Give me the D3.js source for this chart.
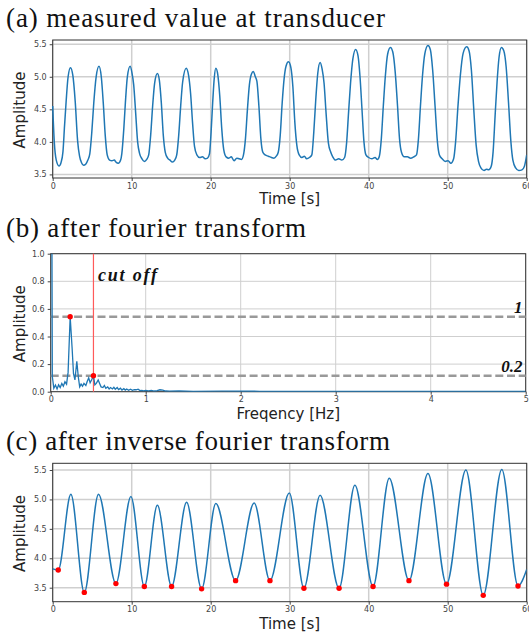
<!DOCTYPE html>
<html>
<head>
    <meta charset="utf-8" />
    <title>Transducer signal filtering</title>
    <style>
        body { margin: 0; background: #fff; }
        .tick text { font-family: "DejaVu Sans", sans-serif; font-size: 8px; fill: #444; }
        .title { font-family: "Liberation Serif", serif; font-size: 27px; fill: #111; }
        .axlabel { font-family: "DejaVu Sans", sans-serif; font-size: 15px; fill: #222; }
        .note { font-family: "Liberation Serif", serif; font-weight: bold; font-style: italic; fill: #111; }
    </style>
</head>
<body>
<script src="https://d3js.org/d3.v7.min.js"></script>
<script>

    var rawTime = [
        0.0, 0.2, 0.45, 0.8, 1.05, 1.3, 1.5, 1.7, 1.95, 2.25, 2.55, 2.85, 3.15, 3.4, 3.65, 3.9, 4.2, 4.45,
        4.7, 4.95, 5.2, 5.5, 5.86, 6.15, 6.4, 6.65, 6.9, 7.2, 7.5, 7.8, 8.0, 8.3, 8.6,
        8.75, 9.0, 9.2, 9.45, 9.8, 10.05, 10.25, 10.5, 10.75, 11.0, 11.3, 11.6, 11.9, 12.15,
        12.4, 12.65, 12.9, 13.25, 13.5, 13.75, 14.0, 14.25, 14.55, 14.85, 15.15, 15.45, 15.7,
        15.95, 16.2, 16.45, 16.9, 17.2, 17.45, 17.7, 17.95, 18.25, 18.6, 18.95, 19.3, 19.6, 19.85,
        20.05, 20.25, 20.45, 20.65, 20.9, 21.15, 21.4, 21.65, 21.95, 22.3, 22.6, 22.95, 23.3, 23.6, 23.9, 24.15,
        24.4, 24.65, 24.9, 25.15, 25.4, 25.65, 25.85, 26.1, 26.35, 26.6, 26.9, 27.3, 27.7, 28.0, 28.3, 28.55,
        28.8, 29.05, 29.3, 29.55, 29.85, 30.15, 30.4, 30.65, 30.9, 31.2, 31.55, 31.85, 32.15, 32.5, 32.8,
        33.05, 33.3, 33.55, 33.85, 34.1, 34.35, 34.6, 34.9, 35.2, 35.45, 35.8, 36.2, 36.6, 36.95,
        37.2, 37.45, 37.7, 38.0, 38.35, 38.65, 38.9, 39.15, 39.4, 39.65, 40.0, 40.4, 40.8, 41.1, 41.35,
        41.6, 41.85, 42.1, 42.4, 42.75, 43.05, 43.35, 43.65, 43.9, 44.15, 44.5, 44.9, 45.3, 45.7, 46.05,
        46.3, 46.55, 46.8, 47.1, 47.5, 47.8, 48.1, 48.4, 48.7, 48.95, 49.3, 49.7, 50.05, 50.4, 50.75,
        51.0, 51.3, 51.6, 51.95, 52.4, 52.7, 53.0, 53.3, 53.6, 53.9, 54.2, 54.6, 54.9, 55.2, 55.5,
        55.75, 56.0, 56.25, 56.5, 56.8, 57.1, 57.4, 57.7, 58.0, 58.25, 58.6, 59.0, 59.4, 59.7, 60.0
    ];
    var rawAmp = [
        4.55, 4.0, 3.72, 3.63, 3.68, 3.85, 4.25, 4.62, 5.0, 5.14, 5.02, 4.62, 4.02, 3.78, 3.68, 3.64, 3.66, 3.72,
        3.82, 4.15, 4.6, 5.0, 5.16, 5.0, 4.6, 4.1, 3.8, 3.72, 3.71, 3.72, 3.69, 3.67, 3.72,
        3.82, 4.2, 4.6, 5.0, 5.16, 5.05, 4.88, 4.45, 4.0, 3.82, 3.74, 3.70, 3.73, 3.8,
        4.1, 4.55, 4.9, 5.05, 4.95, 4.6, 4.1, 3.84, 3.75, 3.72, 3.69, 3.72, 3.8,
        4.1, 4.55, 4.92, 5.13, 5.02, 4.75, 4.3, 3.93, 3.8, 3.76, 3.77, 3.74, 3.75, 3.82,
        4.15, 4.6, 4.98, 5.13, 5.03, 4.7, 4.2, 3.88, 3.77, 3.75, 3.77, 3.71, 3.75, 3.74, 3.73, 3.8,
        4.05, 4.5, 4.88, 5.04, 5.08, 5.0, 4.93, 4.55, 4.05, 3.84, 3.8, 3.78, 3.76, 3.75, 3.78, 3.84,
        4.1, 4.6, 4.98, 5.17, 5.23, 5.14, 4.85, 4.3, 3.95, 3.8, 3.76, 3.78, 3.74, 3.76, 3.8,
        4.15, 4.65, 5.05, 5.22, 5.12, 4.9, 4.45, 3.98, 3.84, 3.77, 3.72, 3.74, 3.72, 3.76,
        3.98, 4.45, 4.9, 5.28, 5.42, 5.32, 5.0, 4.5, 4.0, 3.8, 3.76, 3.74, 3.76, 3.73, 3.78,
        4.05, 4.55, 5.0, 5.35, 5.45, 5.38, 5.08, 4.55, 4.05, 3.84, 3.77, 3.77, 3.75, 3.77, 3.8,
        4.05, 4.55, 5.0, 5.35, 5.48, 5.42, 5.1, 4.55, 4.0, 3.8, 3.74, 3.70, 3.71, 3.67, 3.74,
        4.0, 4.55, 5.02, 5.36, 5.46, 5.4, 5.1, 4.5, 3.95, 3.7, 3.6, 3.56, 3.58, 3.57, 3.62,
        3.85, 4.4, 4.92, 5.3, 5.45, 5.4, 5.15, 4.6, 4.0, 3.72, 3.6, 3.56, 3.57, 3.62, 3.8
    ];

    // (b) amplitude spectrum
    var specFreq = [
        0, 0.017, 0.033, 0.05, 0.067, 0.083, 0.1, 0.117, 0.133, 0.15, 0.167, 0.183, 0.205,
        0.225, 0.24, 0.255, 0.275, 0.29, 0.305, 0.32, 0.335, 0.35, 0.37, 0.385, 0.4, 0.415, 0.43, 0.45,
        0.465, 0.48, 0.5, 0.515, 0.53, 0.55, 0.565, 0.58, 0.6, 0.615, 0.63, 0.65, 0.665, 0.68, 0.7,
        0.715, 0.735, 0.75, 0.77, 0.785, 0.8, 0.82, 0.84, 0.86, 0.88, 0.9, 0.92, 0.94, 0.96, 0.98,
        1.0, 1.03, 1.06, 1.09, 1.12, 1.15, 1.18, 1.21, 1.25, 1.35, 1.5, 1.8, 2.2, 3.0, 4.0, 5.0
    ];
    var specAmp = [
        4.2, 0.11, 0.025, 0.048, 0.02, 0.05, 0.03, 0.06, 0.04, 0.072, 0.055, 0.14, 0.543,
        0.32, 0.13, 0.085, 0.22, 0.11, 0.035, 0.055, 0.04, 0.06, 0.045, 0.075, 0.1, 0.065, 0.085, 0.116,
        0.05, 0.06, 0.085, 0.06, 0.035, 0.03, 0.045, 0.025, 0.035, 0.02, 0.03, 0.02, 0.032, 0.018, 0.03,
        0.015, 0.025, 0.012, 0.022, 0.012, 0.02, 0.01, 0.018, 0.01, 0.015, 0.014, 0.018, 0.008, 0.01, 0.006,
        0.01, 0.006, 0.01, 0.005, 0.008, 0.014, 0.012, 0.005, 0.004, 0.005, 0.003, 0.004, 0.003, 0.003, 0.003, 0.002
    ];
    var markFreq = [0.205, 0.45];
    var markAmp = [0.543, 0.116];
    var cutoffFreq = 0.45;
    var levelAmp = [0.543, 0.116];
    var levelLabels = ["1", "0.2"];

    // (c) after inverse transform: extrema of the smooth curve
    var invTime = [0, 0.7, 2.3, 4.0, 5.8, 8.0, 9.9, 11.6, 13.25, 15.05, 16.95, 18.85, 20.65, 23.15, 25.5, 27.5,
                   29.95, 31.8, 33.85, 36.25, 38.25, 40.55, 42.6, 45.1, 47.5, 49.85, 52.3, 54.5, 56.85, 58.9, 60];
    var invAmp = [3.82, 3.80, 5.09, 3.42, 5.09, 3.57, 5.05, 3.52, 4.90, 3.52, 4.95, 3.48, 4.93, 3.62, 4.94, 3.62,
                  5.11, 3.49, 5.07, 3.49, 5.24, 3.52, 5.36, 3.62, 5.44, 3.56, 5.50, 3.37, 5.51, 3.53, 3.81];
    var troughTime = [0.7, 4.0, 8.0, 11.6, 15.05, 18.85, 23.15, 27.5, 31.8, 36.25, 40.55, 45.1, 49.85, 54.5, 58.9];
    var troughAmp = [3.80, 3.42, 3.57, 3.52, 3.52, 3.48, 3.62, 3.62, 3.49, 3.49, 3.52, 3.62, 3.56, 3.37, 3.53];

    var timeTicks = [0, 10, 20, 30, 40, 50, 60];
    var ampTicks = [3.5, 4.0, 4.5, 5.0, 5.5];
    var freqTicks = [0, 1, 2, 3, 4, 5];
    var specTicks = [0, 0.2, 0.4, 0.6, 0.8, 1.0];

    var width = 529;
    var height = 639;
    var blue = "#1f77b4";

    var svg = d3.select("body").append("svg")
                .attr("width", width)
                .attr("height", height);

    svg.append("rect").attr("width", width).attr("height", height).attr("fill", "#fff");

    function makePanel(id, box, xDomain, yDomain, xTicks, yTicks, xFmt, yFmt, xLabel){
        var x = d3.scaleLinear().domain(xDomain).range([box.x, box.x + box.w]);
        var y = d3.scaleLinear().domain(yDomain).range([box.y + box.h, box.y]);

        var g = svg.append("g");

        // grid
        g.selectAll(".vgrid").data(xTicks).enter().append("line")
         .attr("x1", d => x(d)).attr("x2", d => x(d))
         .attr("y1", box.y).attr("y2", box.y + box.h)
         .attr("stroke", "#cfcfcf").attr("stroke-width", box.grid);
        g.selectAll(".hgrid").data(yTicks).enter().append("line")
         .attr("x1", box.x).attr("x2", box.x + box.w)
         .attr("y1", d => y(d)).attr("y2", d => y(d))
         .attr("stroke", "#cfcfcf").attr("stroke-width", box.grid);

        var xAxis = g.append("g")
                     .attr("transform", "translate(0," + (box.y + box.h) + ")")
                     .call(d3.axisBottom(x).tickValues(xTicks).tickFormat(xFmt).tickSize(3).tickPadding(2));
        var yAxis = g.append("g")
                     .attr("transform", "translate(" + box.x + ",0)")
                     .call(d3.axisLeft(y).tickValues(yTicks).tickFormat(yFmt).tickSize(3).tickPadding(3));
        xAxis.select(".domain").remove();
        yAxis.select(".domain").remove();
        g.selectAll(".tick line").attr("stroke", "#444");

        g.append("rect")
         .attr("x", box.x).attr("y", box.y)
         .attr("width", box.w).attr("height", box.h)
         .attr("fill", "none").attr("stroke", "#333").attr("stroke-width", 1);

        svg.append("clipPath").attr("id", id)
           .append("rect")
           .attr("x", box.x - 1).attr("y", box.y)
           .attr("width", box.w + 1).attr("height", box.h);

        svg.append("text").attr("class", "axlabel")
           .attr("text-anchor", "middle")
           .attr("transform", "translate(24.5," + (box.y + box.h / 2 + 1) + ") rotate(-90)")
           .text("Amplitude");

        svg.append("text").attr("class", "axlabel")
           .attr("text-anchor", "middle")
           .attr("x", box.x + box.w / 2)
           .attr("y", box.labelY)
           .text(xLabel);

        return {x: x, y: y, clip: "url(#" + id + ")"};
    }

    function title(txt, yBase, len){
        svg.append("text").attr("class", "title")
           .attr("x", 6).attr("y", yBase)
           .attr("textLength", len)
           .text(txt);
    }

    var fmt1 = d3.format(".1f");
    var fmt0 = d3.format("d");

    // ---- (a)
    title("(a) measured value at transducer", 27, 379);
    var pa = makePanel("clipA", {x: 52.7, y: 40, w: 474, h: 138, grid: 1.5, labelY: 204},
                       [0, 60], [3.445, 5.565], timeTicks, ampTicks, fmt0, fmt1, "Time [s]");
    var rawLine = d3.line()
                    .x((d, i) => pa.x(rawTime[i]))
                    .y(d => pa.y(d))
                    .curve(d3.curveMonotoneX);
    svg.append("path")
       .attr("clip-path", pa.clip)
       .attr("d", rawLine(rawAmp))
       .attr("fill", "none").attr("stroke", blue).attr("stroke-width", 1.5);

    // ---- (b)
    title("(b) after fourier transform", 237, 300);
    var pb = makePanel("clipB", {x: 50.7, y: 253.7, w: 475, h: 138, grid: 1, labelY: 419},
                       [0, 5], [0, 1], freqTicks, specTicks, fmt0, fmt1, "Freqency [Hz]");

    svg.selectAll(".level").data(levelAmp).enter().append("line")
       .attr("x1", pb.x(0)).attr("x2", pb.x(5))
       .attr("y1", d => pb.y(d)).attr("y2", d => pb.y(d))
       .attr("stroke", "#999").attr("stroke-width", 2.6)
       .attr("stroke-dasharray", "8,3.7");

    svg.append("line")
       .attr("x1", pb.x(cutoffFreq)).attr("x2", pb.x(cutoffFreq))
       .attr("y1", pb.y(0)).attr("y2", pb.y(1))
       .attr("stroke", "#ff5a5a").attr("stroke-width", 1.2);

    var specLine = d3.line()
                     .x((d, i) => pb.x(specFreq[i]))
                     .y(d => pb.y(d));
    svg.append("path")
       .attr("clip-path", pb.clip)
       .attr("d", specLine(specAmp))
       .attr("fill", "none").attr("stroke", blue).attr("stroke-width", 1.3);

    svg.selectAll(".mark").data(markAmp).enter().append("circle")
       .attr("cx", (d, i) => pb.x(markFreq[i]))
       .attr("cy", d => pb.y(d))
       .attr("r", 2.7).attr("fill", "#ff0000");

    svg.append("text").attr("class", "note")
       .attr("x", 98).attr("y", 281)
       .attr("font-size", 18).attr("textLength", 59)
       .text("cut off");

    svg.selectAll(".lvlText").data(levelLabels).enter().append("text")
       .attr("class", "note")
       .attr("text-anchor", "end")
       .attr("x", 522.5)
       .attr("y", (d, i) => pb.y(levelAmp[i]) - 4)
       .attr("font-size", 17)
       .text(d => d);

    // ---- (c)
    title("(c) after inverse fourier transform", 450, 384);
    var pc = makePanel("clipC", {x: 52.7, y: 463.3, w: 474, h: 138.4, grid: 1.5, labelY: 629},
                       [0, 60], [3.262, 5.614], timeTicks, ampTicks, fmt0, fmt1, "Time [s]");
    var invLine = d3.line()
                    .x((d, i) => pc.x(invTime[i]))
                    .y(d => pc.y(d))
                    .curve(d3.curveMonotoneX);
    svg.append("path")
       .attr("clip-path", pc.clip)
       .attr("d", invLine(invAmp))
       .attr("fill", "none").attr("stroke", blue).attr("stroke-width", 1.5);

    svg.selectAll(".trough").data(troughAmp).enter().append("circle")
       .attr("cx", (d, i) => pc.x(troughTime[i]))
       .attr("cy", d => pc.y(d))
       .attr("r", 2.7).attr("fill", "#ff0000");

</script>
</body>
</html>
